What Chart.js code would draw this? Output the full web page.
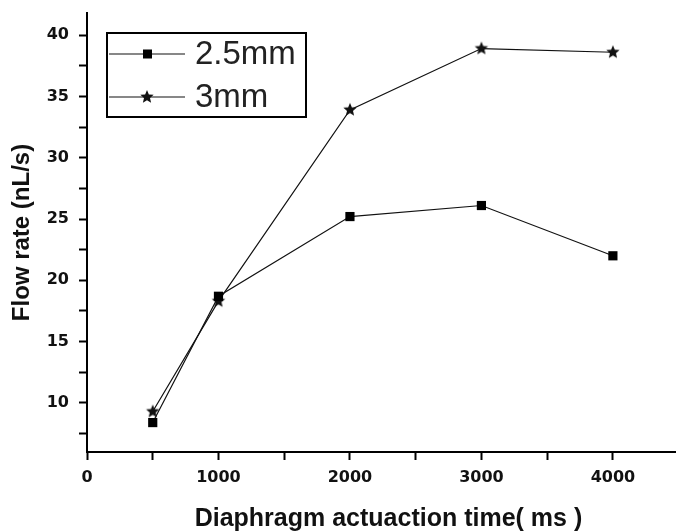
<!DOCTYPE html>
<html>
<head>
<meta charset="utf-8">
<script src="https://cdn.jsdelivr.net/npm/chart.js@4"></script>
<style>
  body { margin: 0; background: #fff; }
  #wrap { width: 676px; height: 532px; position: relative; }
</style>
</head>
<body>
<div id="wrap"><canvas id="flow-chart"></canvas></div>
<script>
// values
const times = [500, 1000, 2000, 3000, 4000];
const flow25 = [8.4, 18.7, 25.2, 26.1, 22.0];
const flow3 = [9.3, 18.3, 33.9, 38.9, 38.6];
const seriesNames = ['2.5mm', '3mm'];
const xTickValues = [0, 500, 1000, 1500, 2000, 2500, 3000, 3500, 4000];
const yTickValues = [7.5, 10, 12.5, 15, 17.5, 20, 22.5, 25, 27.5, 30, 32.5, 35, 37.5, 40];

// filled star used as marker for the 3mm series
function makeStar(r) {
  const c = document.createElement('canvas');
  const s = Math.ceil(r * 2 + 2);
  c.width = s; c.height = s;
  const g = c.getContext('2d');
  g.beginPath();
  for (let i = 0; i < 10; i++) {
    const rad = i % 2 === 0 ? r : r * 0.45;
    const a = -Math.PI / 2 + i * Math.PI / 5;
    const px = s / 2 + rad * Math.cos(a);
    const py = s / 2 + rad * Math.sin(a);
    if (i === 0) g.moveTo(px, py); else g.lineTo(px, py);
  }
  g.closePath();
  g.fillStyle = '#111';
  g.fill();
  return c;
}
const star = makeStar(7);

const toPoints = (xs, ys) => xs.map((x, i) => ({ x, y: ys[i] }));

// boxed legend like the original figure
const boxLegend = {
  id: 'boxLegend',
  afterDraw(chart) {
    const ctx = chart.ctx;
    const bx = 107, by = 33, bw = 199, bh = 84;
    ctx.save();
    ctx.strokeStyle = '#000';
    ctx.lineWidth = 2;
    ctx.strokeRect(bx, by, bw, bh);
    chart.data.datasets.forEach((ds, i) => {
      const y = by + 21 + i * 43;
      ctx.strokeStyle = '#111';
      ctx.lineWidth = 1.2;
      ctx.beginPath();
      ctx.moveTo(bx + 2, y);
      ctx.lineTo(bx + 78, y);
      ctx.stroke();
      if (ds.pointStyle === 'rect') {
        ctx.fillStyle = '#000';
        ctx.fillRect(bx + 36, y - 4.5, 9, 9);
      } else {
        ctx.drawImage(ds.pointStyle, bx + 40 - ds.pointStyle.width / 2, y - ds.pointStyle.height / 2);
      }
      ctx.fillStyle = '#222';
      ctx.font = '33px "Liberation Sans"';
      ctx.textBaseline = 'middle';
      ctx.textAlign = 'left';
      ctx.fillText(ds.label, bx + 88, y + 1);
    });
    ctx.restore();
  }
};

const ctx = document.getElementById('flow-chart').getContext('2d');
new Chart(ctx, {
  type: 'line',
  data: {
    datasets: [
      {
        label: seriesNames[0],
        data: toPoints(times, flow25),
        borderColor: '#111',
        borderWidth: 1.2,
        pointStyle: 'rect',
        pointRadius: 6.5,
        pointBackgroundColor: '#000',
        pointBorderColor: '#000',
        pointBorderWidth: 0
      },
      {
        label: seriesNames[1],
        data: toPoints(times, flow3),
        borderColor: '#111',
        borderWidth: 1.2,
        pointStyle: star,
        pointRadius: 7
      }
    ]
  },
  options: {
    responsive: true,
    maintainAspectRatio: false,
    animation: false,
    layout: { autoPadding: false, padding: { top: 13, right: 0, bottom: 0, left: 0 } },
    plugins: {
      legend: { display: false },
      tooltip: { enabled: false }
    },
    scales: {
      x: {
        type: 'linear',
        min: 0,
        max: 4480,
        afterBuildTicks: axis => { axis.ticks = xTickValues.map(v => ({ value: v })); },
        afterFit: axis => {
          axis.height = 80;
          axis.paddingLeft = 0;
          axis.paddingRight = 0;
        },
        border: { display: true, color: '#000', width: 2 },
        grid: { drawOnChartArea: false, drawTicks: true, tickLength: 8, tickColor: '#000', tickWidth: 2 },
        ticks: {
          color: '#111',
          padding: 8,
          maxRotation: 0,
          autoSkip: false,
          font: { family: '"DejaVu Sans"', size: 16, weight: 'bold' },
          callback: v => (v % 1000 === 0 ? String(v) : '')
        },
        title: {
          display: true,
          text: '  Diaphragm actuaction time( ms )',
          color: '#111',
          padding: { top: 0, bottom: 0 },
          font: { family: '"Liberation Sans"', size: 25, weight: 'bold', lineHeight: 1 }
        }
      },
      y: {
        type: 'linear',
        min: 6,
        max: 41.8,
        afterBuildTicks: axis => { axis.ticks = yTickValues.map(v => ({ value: v })); },
        afterFit: axis => {
          axis.width = 87;
          axis.paddingTop = 0;
          axis.paddingBottom = 0;
        },
        border: { display: true, color: '#000', width: 2 },
        grid: { drawOnChartArea: false, drawTicks: true, tickLength: 8, tickColor: '#000', tickWidth: 2 },
        ticks: {
          color: '#111',
          padding: 10,
          autoSkip: false,
          font: { family: '"DejaVu Sans"', size: 16, weight: 'bold' },
          callback: v => (v % 5 === 0 ? String(v) : '')
        },
        title: {
          display: true,
          text: 'Flow rate (nL/s)',
          color: '#111',
          padding: { top: 8, bottom: 0 },
          font: { family: '"Liberation Sans"', size: 24, weight: 'bold', lineHeight: 1.2 }
        }
      }
    }
  },
  plugins: [boxLegend]
});
</script>
</body>
</html>
